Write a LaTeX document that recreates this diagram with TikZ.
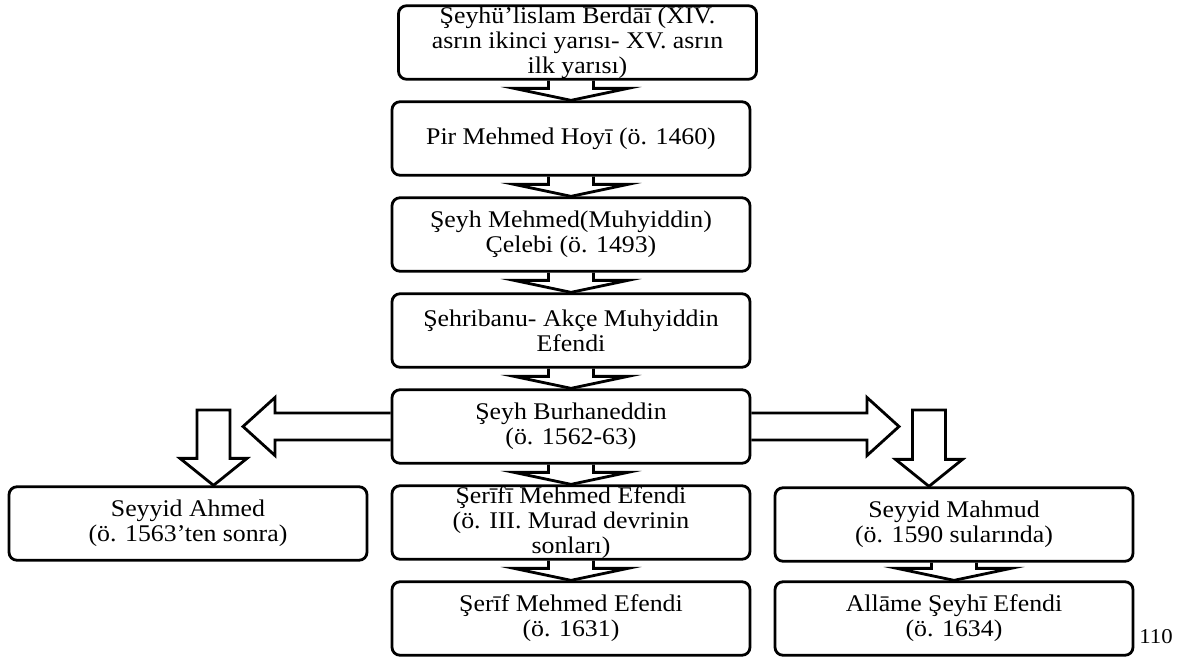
\documentclass[tikz,border=0pt]{standalone}
\usepackage{fontspec}
\setmainfont{Liberation Serif}[FakeStretch=1.08]
\usepackage{tikz}
\usetikzlibrary{calc}

\begin{document}
\begin{tikzpicture}[
		person/.style={draw, line width=1.6pt, rounded corners=0.16cm, minimum width=7.16cm, minimum height=1.47cm, align=center, inner sep=0pt, font=\fontsize{13.6}{14.2}\selectfont},
		blockarrow/.style={draw, line width=1.6pt, line join=miter}
	]
		\useasboundingbox (0,0) rectangle (23.58,-13.18);

		\node[person] (b1) at (11.55,-0.85) {Şeyhü’lislam Berdāī (XIV.\\asrın ikinci yarısı- XV. asrın\\ilk yarısı)};
		\node[person] (b2) at (11.42,-2.77) {Pir Mehmed Hoyī (ö. 1460)};
		\node[person] (b3) at (11.42,-4.69) {Şeyh Mehmed(Muhyiddin)\\Çelebi (ö. 1493)};
		\node[person] (b4) at (11.42,-6.61) {Şehribanu- Akçe Muhyiddin\\Efendi};
		\node[person] (b5) at (11.42,-8.53) {Şeyh Burhaneddin\\(ö. 1562-63)};
		\node[person] (b6) at (11.42,-10.45) {Şerīfī Mehmed Efendi\\(ö. III. Murad devrinin\\sonları)};
		\node[person] (b7) at (11.42,-12.37) {Şerīf Mehmed Efendi\\(ö. 1631)};
		\node[person] (sa) at (3.76,-10.47) {Seyyid Ahmed\\(ö. 1563’ten sonra)};
		\node[person] (sm) at (19.08,-10.49) {Seyyid Mahmud\\(ö. 1590 sularında)};
		\node[person] (al) at (19.08,-12.37) {Allāme Şeyhī Efendi\\(ö. 1634)};
		\node[font=\fontsize{12}{12}\selectfont, inner sep=0pt] (pg) at (23.12,-12.74) {110};

		% free ends of the side arrows
		\coordinate (lh) at (4.86,-8.53);
		\coordinate (rh) at (17.98,-8.53);
		\coordinate (ld) at (4.27,-8.2);
		\coordinate (rd) at (18.58,-8.2);

		% flat arrows down the chains
		\foreach \a/\b in {b1/b2, b2/b3, b3/b4, b4/b5, b5/b6, b6/b7, sm/al}
			\draw[blockarrow] let \p1=(\b.north), \p2=(\a.south) in
				(\x1-0.45cm,\y2) -- (\x1-0.45cm,\y1+0.24cm) -- (\x1-1.14cm,\y1+0.24cm) -- (\x1,\y1)
				-- (\x1+1.14cm,\y1+0.24cm) -- (\x1+0.45cm,\y1+0.24cm) -- (\x1+0.45cm,\y2);

		% side arrows
		\draw[blockarrow] let \p1=(b5.west), \p2=(lh) in
			(\x1,\y1+0.27cm) -- (\x2+0.64cm,\y1+0.27cm) -- (\x2+0.64cm,\y1+0.58cm) -- (\x2,\y1)
			-- (\x2+0.64cm,\y1-0.58cm) -- (\x2+0.64cm,\y1-0.27cm) -- (\x1,\y1-0.27cm);
		\draw[blockarrow] let \p1=(b5.east), \p2=(rh) in
			(\x1,\y1+0.27cm) -- (\x2-0.64cm,\y1+0.27cm) -- (\x2-0.64cm,\y1+0.58cm) -- (\x2,\y1)
			-- (\x2-0.64cm,\y1-0.58cm) -- (\x2-0.64cm,\y1-0.27cm) -- (\x1,\y1-0.27cm);
		\draw[blockarrow] let \p1=(ld), \p2=(sa.north) in
			(\x1-0.33cm,\y1) -- (\x1-0.33cm,\y2+0.54cm) -- (\x1-0.67cm,\y2+0.54cm) -- (\x1,\y2)
			-- (\x1+0.67cm,\y2+0.54cm) -- (\x1+0.33cm,\y2+0.54cm) -- (\x1+0.33cm,\y1) -- cycle;
		\draw[blockarrow] let \p1=(rd), \p2=(sm.north) in
			(\x1-0.33cm,\y1) -- (\x1-0.33cm,\y2+0.54cm) -- (\x1-0.67cm,\y2+0.54cm) -- (\x1,\y2)
			-- (\x1+0.67cm,\y2+0.54cm) -- (\x1+0.33cm,\y2+0.54cm) -- (\x1+0.33cm,\y1) -- cycle;
	\end{tikzpicture}
\end{document}
